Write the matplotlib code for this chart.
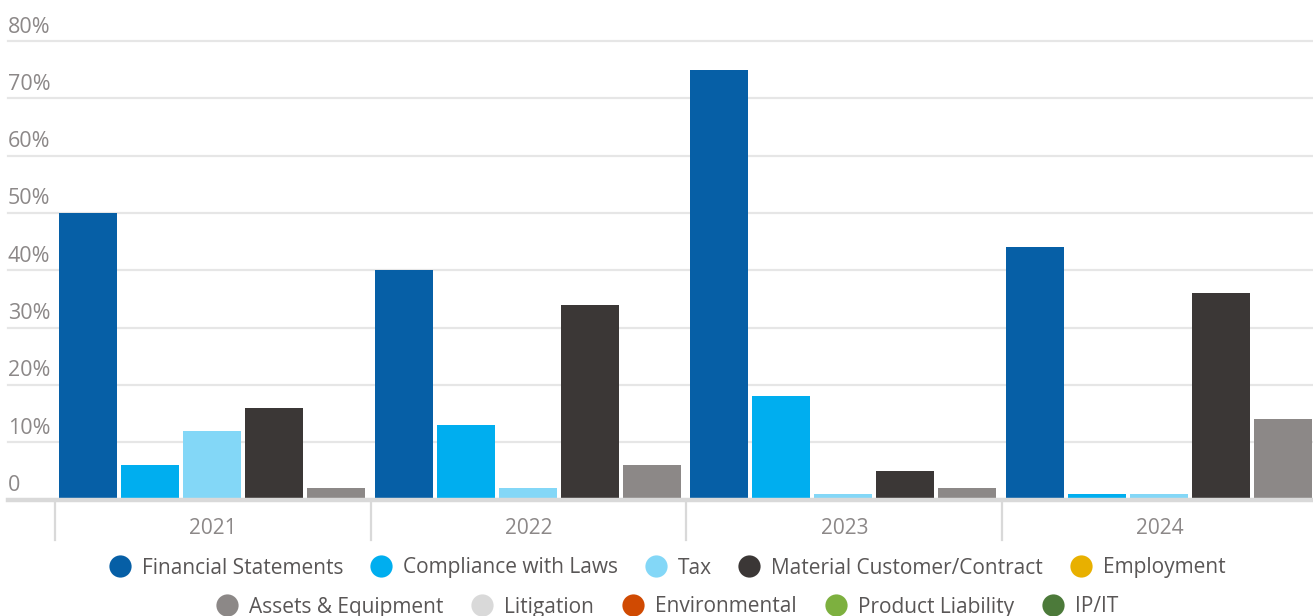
import matplotlib
matplotlib.use("Agg")
import matplotlib.pyplot as plt
from matplotlib.lines import Line2D
from matplotlib.transforms import blended_transform_factory
import numpy as np

plt.rcParams["font.family"] = ["Open Sans", "DejaVu Sans"]

years = ["2021", "2022", "2023", "2024"]

# share of matters per category (%) - only categories with data get bars
financial_statements = [50, 40, 75, 44]
compliance_with_laws = [6, 13, 18, 1]
tax = [12, 2, 1, 1]
material_customer = [16, 34, 5, 36]
assets_equipment = [2, 6, 2, 14]

bar_series = [
    ("Financial Statements", financial_statements, "#065FA6"),
    ("Compliance with Laws", compliance_with_laws, "#00AEEF"),
    ("Tax", tax, "#83D7F7"),
    ("Material Customer/Contract", material_customer, "#3B3736"),
    ("Assets & Equipment", assets_equipment, "#8C8887"),
]

legend_row1 = [
    ("Financial Statements", "#065FA6"),
    ("Compliance with Laws", "#00AEEF"),
    ("Tax", "#83D7F7"),
    ("Material Customer/Contract", "#3B3736"),
    ("Employment", "#E8B000"),
]
legend_row2 = [
    ("Assets & Equipment", "#8C8887"),
    ("Litigation", "#D9D9D9"),
    ("Environmental", "#D04A02"),
    ("Product Liability", "#7DB03F"),
    ("IP/IT", "#4C7A3A"),
]

y_ticks = [0, 10, 20, 30, 40, 50, 60, 70, 80]

W, H = 1313, 616
fig = plt.figure(figsize=(W / 100, H / 100), dpi=100)
ax = fig.add_axes([0, 116.5 / H, 1, (499.5 - 41) / H])

# one group = 315.7 px, first group starts at 55 px
group_px = 315.7
x0 = -0.5 - 55 / group_px
x1 = x0 + W / group_px
ax.set_xlim(x0, x1)
ax.set_ylim(0, 80)

x = np.arange(len(years))
step = 62 / group_px
width = 58 / group_px
for i, (name, vals, col) in enumerate(bar_series):
    ax.bar(x + (i - 2) * step - 0.003, vals, width=width, color=col, zorder=3, label=name)

# gridlines and tick labels, labels sit above each line
grid_start = 8 / W
trans = blended_transform_factory(ax.transAxes, ax.transData)
for t in y_ticks:
    if t == 0:
        ax.axhline(0, xmin=grid_start, color="#D9D9D9", lw=3.2, zorder=4, clip_on=False)
        label = "0"
    else:
        ax.axhline(t, xmin=grid_start, color="#E6E6E6", lw=1.6, zorder=1, clip_on=False)
        label = f"{t}%"
    ax.text(grid_start, t + 0.6, label, transform=trans, ha="left", va="bottom",
            fontsize=15.5, color="#8C8888")

# category separators and year labels below the baseline
for b in np.arange(len(years) + 1) - 0.5:
    ax.plot([b, b], [0, -7], color="#D9D9D9", lw=1.6, clip_on=False, zorder=2)
for xi, yr in zip(x, years):
    ax.text(xi, -5.1, yr, ha="center", va="center", fontsize=15, color="#8C8888")

for s in ax.spines.values():
    s.set_visible(False)
ax.set_xticks([])
ax.set_yticks([])


def make_legend(items, y, spacing):
    handles = [Line2D([], [], ls="none", marker="o", markersize=16, color=c,
                      markeredgewidth=0) for _, c in items]
    labels = [n for n, _ in items]
    leg = fig.legend(handles, labels, loc="center", bbox_to_anchor=(667 / W, 1 - y / H),
                     ncol=len(items), frameon=False, fontsize=15, handlelength=1.1,
                     handletextpad=0.5, columnspacing=spacing, borderpad=0)
    for t in leg.get_texts():
        t.set_color("#595656")
    return leg


make_legend(legend_row1, 568, 1.26)
make_legend(legend_row2, 607, 1.33)

fig.savefig("out.png", dpi=100)
